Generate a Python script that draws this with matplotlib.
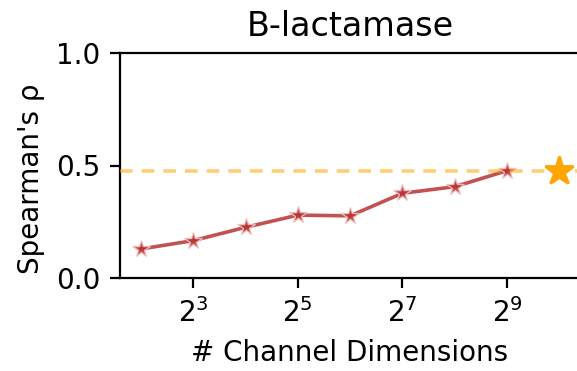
import numpy as np
import matplotlib
matplotlib.use("Agg")
import matplotlib.pyplot as plt

# Spearman correlation vs. number of channel dimensions
channel_dims = [4, 8, 16, 32, 64, 128, 256, 512]
spearman = [0.13, 0.167, 0.226, 0.28, 0.277, 0.377, 0.406, 0.477]
baseline_dim = 1024
baseline_rho = 0.474
tick_dims = [8, 32, 128, 512]
tick_labels = [r"$2^{3}$", r"$2^{5}$", r"$2^{7}$", r"$2^{9}$"]

W_PX, H_PX = 577, 371
ax_left, ax_right, ax_top, ax_bottom = 120, 580, 52.7, 278.3
px_per_octave = 52.3

fig = plt.figure(figsize=(W_PX / 200, H_PX / 200), dpi=200)
ax = fig.add_axes([ax_left / W_PX, 1 - ax_bottom / H_PX,
                   (ax_right - ax_left) / W_PX, (ax_bottom - ax_top) / H_PX])

ax.plot(channel_dims, spearman, color="#b83232", alpha=0.85, lw=1.3,
        marker="*", markersize=6.5, markeredgecolor="#f3c4c4",
        markeredgewidth=0.5, zorder=3)
ax.axhline(baseline_rho, color="orange", alpha=0.55, lw=1.3,
           linestyle=(0, (3.5, 2.5)), zorder=4)
ax.plot([baseline_dim], [baseline_rho], marker="*", color="orange",
        markersize=10.5, linestyle="none", zorder=5, clip_on=False)

ax.set_xscale("log", base=2)
ax.set_xlim(2 ** 1.6, 2 ** (1.6 + (ax_right - ax_left) / px_per_octave))
ax.set_ylim(0, 1)
ax.set_yticks([0.0, 0.5, 1.0])
ax.set_xticks(tick_dims)
ax.set_xticklabels(tick_labels)
ax.xaxis.set_minor_locator(matplotlib.ticker.NullLocator())

ax.set_title("B-lactamase")
ax.set_xlabel("# Channel Dimensions")
ax.set_ylabel("Spearman's ρ", y=0.44)

fig.savefig("out.png", dpi=200)
